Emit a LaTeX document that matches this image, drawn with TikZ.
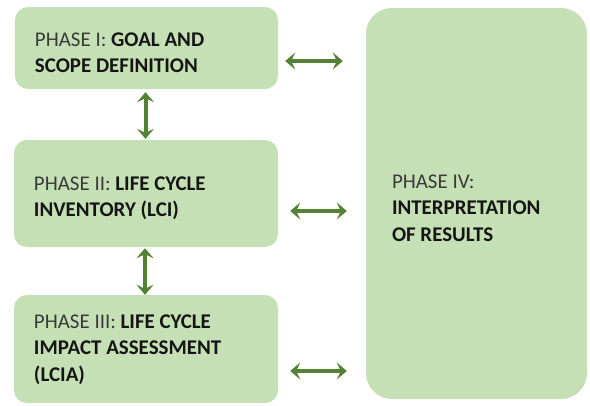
\documentclass[tikz,border=0pt]{standalone}
\usepackage{fontspec}
\setmainfont{Carlito}
\usetikzlibrary{arrows.meta,positioning,calc}
\definecolor{boxfill}{HTML}{C5E0B4}
\definecolor{arrgreen}{HTML}{548235}
\definecolor{phasegray}{HTML}{3A3A3A}
\definecolor{boldtxt}{HTML}{151515}
\tikzset{
  phasebox/.style={fill=boxfill, draw=none, rounded corners=13bp, inner sep=0pt, anchor=center},
  phasetext/.style={inner sep=0pt, align=left, anchor=west,
    font=\fontsize{21}{26.5}\selectfont, text=boldtxt},
  biarrow/.style={draw=arrgreen, line width=4bp,
    {Stealth[length=10bp,width=17bp,inset=4bp]}-{Stealth[length=10bp,width=17bp,inset=4bp]}},
}
\newcommand{\ph}[1]{{\color{phasegray}#1}}
\begin{document}
\begin{tikzpicture}[x=1bp,y=-1bp]
\useasboundingbox (0,0) rectangle (590,405);
\node[phasebox, minimum width=263bp, minimum height=82bp] (b1) at (146.5,48) {};
\node[phasebox, minimum width=264bp, minimum height=107bp] (b2) at (146,193.5) {};
\node[phasebox, minimum width=264bp, minimum height=108bp] (b3) at (146,349) {};
\node[phasebox, rounded corners=26bp, minimum width=221bp, minimum height=391bp] (b4) at (476.5,203.5) {};
\node[phasetext] (t1) at ([shift={(20bp,-4.5bp)}]b1.west)
  {\ph{PHASE I:} \textbf{GOAL AND}\\\textbf{SCOPE DEFINITION}};
\node[phasetext] (t2) at ([shift={(20bp,-5bp)}]b2.west)
  {\ph{PHASE II:} \textbf{LIFE CYCLE}\\\textbf{INVENTORY (LCI)}};
\node[phasetext] (t3) at ([shift={(20bp,-0.5bp)}]b3.west)
  {\ph{PHASE III:} \textbf{LIFE CYCLE}\\\textbf{IMPACT ASSESSMENT}\\\textbf{(LCIA)}};
\node[phasetext] (t4) at ([shift={(26bp,-4.5bp)}]b4.west)
  {\ph{PHASE IV:}\\\textbf{INTERPRETATION}\\\textbf{OF RESULTS}};
% horizontal connectors
\coordinate (h1) at ([yshift=-13bp]b1.east);
\coordinate (h2) at ([yshift=-17.5bp]b2.east);
\coordinate (h3) at ([yshift=-22bp]b3.east);
\draw[biarrow, shorten <=7bp, shorten >=23bp] (h1) -- (h1 -| b4.west);
\draw[biarrow, shorten <=12bp, shorten >=19bp] (h2) -- (h2 -| b4.west);
\draw[biarrow, shorten <=12bp, shorten >=19bp] (h3) -- (h3 -| b4.west);
% vertical connectors
\draw[biarrow, shorten <=3bp, shorten >=1bp] ([xshift=-1bp]b1.south) -- ([xshift=-1bp]b2.north -| b1.south);
\draw[biarrow, shorten <=1bp, shorten >=0bp] ([xshift=-1bp]b2.south) -- ([xshift=-1bp]b3.north -| b2.south);
\end{tikzpicture}
\end{document}
